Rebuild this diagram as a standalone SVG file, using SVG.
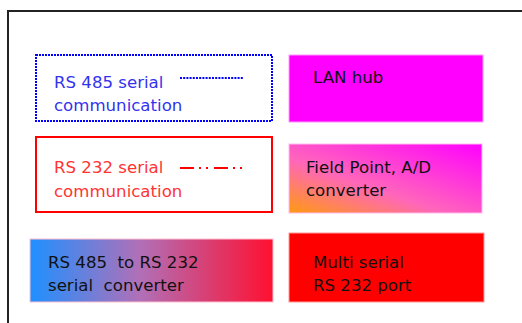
<svg xmlns="http://www.w3.org/2000/svg" width="522" height="323" viewBox="0 0 522 323">
<style>
text{font-family:"DejaVu Sans","Verdana",sans-serif;font-size:16.6px;white-space:pre}
.dark{fill:#111}
.fillbox{stroke-width:1}
</style>
<defs>
<linearGradient id="gFP" x1="0" y1="1" x2="1" y2="0">
<stop offset="0" stop-color="#ff9a10"/>
<stop offset="0.4" stop-color="#ff66bb"/>
<stop offset="1" stop-color="#ff00ff"/>
</linearGradient>
<linearGradient id="gConv" x1="0" y1="0" x2="1" y2="0">
<stop offset="0" stop-color="#1e90ff"/>
<stop offset="0.45" stop-color="#b070b8"/>
<stop offset="1" stop-color="#ff1030"/>
</linearGradient>
</defs>
<rect width="522" height="323" fill="#fff"/>
<path d="M8,323 V11 H522" fill="none" stroke="#222" stroke-width="2"/>
<g id="rs485-legend">
<rect x="36" y="55" width="236" height="66" fill="none" stroke="#0000ff" stroke-width="2" stroke-dasharray="2 1"/>
<text x="54" y="88" fill="#3333ee">RS 485 serial</text>
<text x="54" y="111" fill="#3333ee">communication</text>
</g>
<g id="lan-hub">
<rect x="289" y="55" width="194" height="67" fill="#ff00ff" stroke="#ff99ff" class="fillbox"/>
<text x="313" y="83" class="dark">LAN hub</text>
</g>
<g id="rs232-legend">
<rect x="36" y="137" width="236" height="75" fill="none" stroke="#ff0000" stroke-width="2"/>
<text x="54" y="173" fill="#ff3333">RS 232 serial</text>
<text x="54" y="197" fill="#ff3333">communication</text>
</g>
<g id="field-point">
<rect x="289" y="144" width="193" height="69" fill="url(#gFP)" stroke="#ffbbee" class="fillbox"/>
<text x="306" y="173" class="dark">Field Point, A/D</text>
<text x="306" y="196" class="dark">converter</text>
</g>
<g id="converter">
<rect x="30" y="239" width="243" height="63" fill="url(#gConv)" stroke="#ffc0d0" class="fillbox"/>
<text x="48" y="268" class="dark">RS 485  to RS 232</text>
<text x="48" y="291" class="dark">serial  converter</text>
</g>
<g id="multi-serial">
<rect x="289" y="233" width="195" height="69" fill="#ff0000" stroke="#ff9999" class="fillbox"/>
<text x="313" y="268" class="dark">Multi serial</text>
<text x="313" y="291" class="dark">RS 232 port</text>
</g>
<g id="connectors">
<line x1="180" y1="78" x2="244" y2="78" stroke="#0000ff" stroke-width="2" stroke-dasharray="2 1.2"/>
<line x1="180" y1="168" x2="244" y2="168" stroke="#ff0000" stroke-width="2" stroke-dasharray="14 5 2 5 2 6"/>
</g>
</svg>
